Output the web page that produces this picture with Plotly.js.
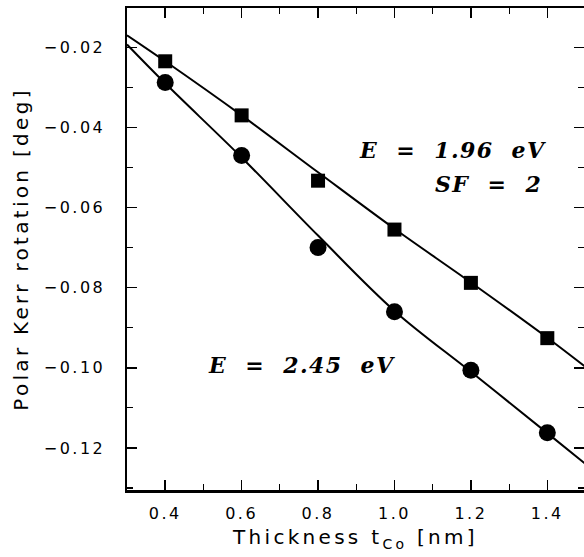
<!DOCTYPE html>
<html>
<head>
<meta charset="utf-8">
<script src="https://cdn.plot.ly/plotly-3.0.1.min.js"></script>
<style>
html,body{margin:0;padding:0;background:#fff;}
.xtick text, .ytick text { letter-spacing: 2.5px; }
text.xtitle, text.ytitle { letter-spacing: 3.3px; }
text.annotation-text { letter-spacing: 1.4px; }
</style>
</head>
<body>
<div id="chart" style="width:584px;height:557px;"></div>
<script>
// Measured data
const thickness = [0.4, 0.6, 0.8, 1.0, 1.2, 1.4];
const kerr196 = [-0.0235, -0.0370, -0.0533, -0.0655, -0.0788, -0.0926];
const kerr245 = [-0.0288, -0.0470, -0.0700, -0.0860, -0.1006, -0.1162];
// Fitted curves
const fitX = [0.3, 0.4, 0.6, 0.8, 1.0, 1.2, 1.4, 1.5];
const fit196 = [-0.0170, -0.0235, -0.0370, -0.0512, -0.0653, -0.0787, -0.0925, -0.0998];
const fit245 = [-0.0193, -0.0290, -0.0475, -0.0670, -0.0858, -0.1010, -0.1163, -0.1240];
const labels = ["E  =  1.96  eV", "SF  =  2", "E  =  2.45  eV"];

const lineStyle = {color: '#000', width: 2};
const traces = [
  {x: fitX, y: fit196, mode: 'lines', line: Object.assign({shape: 'spline'}, lineStyle), hoverinfo: 'skip'},
  {x: fitX, y: fit245, mode: 'lines', line: Object.assign({shape: 'spline'}, lineStyle), hoverinfo: 'skip'},
  {x: thickness, y: kerr196, mode: 'markers', marker: {symbol: 'square', size: 14, color: '#000'}},
  {x: thickness, y: kerr245, mode: 'markers', marker: {symbol: 'circle', size: 17, color: '#000'}}
];

const annFont = {family: 'DejaVu Serif', size: 22, color: '#000', weight: 'bold', style: 'italic'};
const layout = {
  width: 584, height: 557,
  margin: {l: 127, r: 0, t: 8, b: 67},
  showlegend: false,
  paper_bgcolor: '#fff', plot_bgcolor: '#fff',
  font: {family: 'DejaVu Sans', color: '#000'},
  xaxis: {
    range: [0.3, 1.496], showgrid: false, zeroline: false,
    showline: true, linewidth: 2.5, linecolor: '#000', mirror: 'ticks',
    ticks: 'inside', ticklen: 10, tickwidth: 1.5, tickcolor: '#000',
    tickvals: [0.4, 0.6, 0.8, 1.0, 1.2, 1.4],
    ticktext: ['0.4', '0.6', '0.8', '1.0', '1.2', '1.4'],
    minor: {ticks: 'inside', ticklen: 6, tickwidth: 1.2, tickcolor: '#000', tickvals: [0.3, 0.5, 0.7, 0.9, 1.1, 1.3]},
    tickfont: {size: 16, family: 'DejaVu Sans'},
    ticklabelstandoff: 7,
    title: {text: 'Thickness t<sub>Co</sub> [nm]', font: {size: 20, family: 'DejaVu Sans'}, standoff: 9}
  },
  yaxis: {
    range: [-0.1305, -0.0102], showgrid: false, zeroline: false,
    showline: true, linewidth: 2.5, linecolor: '#000', mirror: 'ticks',
    ticks: 'inside', ticklen: 10, tickwidth: 1.5, tickcolor: '#000',
    tickvals: [-0.02, -0.04, -0.06, -0.08, -0.10, -0.12],
    ticktext: ['\u22120.02', '\u22120.04', '\u22120.06', '\u22120.08', '\u22120.10', '\u22120.12'],
    minor: {ticks: 'inside', ticklen: 6, tickwidth: 1.2, tickcolor: '#000', tickvals: [-0.03, -0.05, -0.07, -0.09, -0.11, -0.13]},
    tickfont: {size: 16, family: 'DejaVu Sans'},
    ticklabelstandoff: 16,
    title: {text: 'Polar Kerr rotation [deg]', font: {size: 20, family: 'DejaVu Sans'}, standoff: 10}
  },
  annotations: [
    {x: 1.153, y: -0.0456, xref: 'x', yref: 'y', text: labels[0], showarrow: false, xanchor: 'center', yanchor: 'middle', font: annFont},
    {x: 1.245, y: -0.0541, xref: 'x', yref: 'y', text: labels[1], showarrow: false, xanchor: 'center', yanchor: 'middle', font: annFont},
    {x: 0.756, y: -0.0993, xref: 'x', yref: 'y', text: labels[2], showarrow: false, xanchor: 'center', yanchor: 'middle', font: annFont}
  ]
};
Plotly.newPlot('chart', traces, layout, {displayModeBar: false, staticPlot: true});
</script>
</body>
</html>
